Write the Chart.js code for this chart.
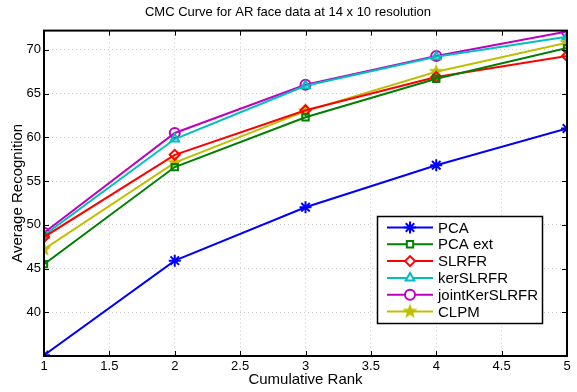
<!DOCTYPE html>
<html>
<head>
<meta charset="utf-8">
<script src="https://cdn.jsdelivr.net/npm/chart.js@4.4.0/dist/chart.umd.min.js"></script>
<style>
  html, body { margin: 0; padding: 0; background: #fff; }
  #wrap { width: 577px; height: 392px; position: relative; }
</style>
</head>
<body>
<div id="wrap"><canvas id="cmc"></canvas></div>
<script>
// data
var ranks = [1, 2, 3, 4, 5];
var pca = [35.1, 45.9, 52.0, 56.8, 61.0];
var pcaExt = [45.5, 56.6, 62.3, 66.7, 70.2];
var slrfr = [48.6, 58.0, 63.1, 66.9, 69.3];
var kerSlrfr = [48.8, 59.8, 65.9, 69.2, 71.5];
var jointKer = [49.1, 60.5, 66.0, 69.3, 72.1];
var clpm = [47.2, 57.1, 63.0, 67.5, 70.8];
var xTicks = [1, 1.5, 2, 2.5, 3, 3.5, 4, 4.5, 5];
var yTicks = [40, 45, 50, 55, 60, 65, 70];

var FONT = "'Liberation Sans', Arial, sans-serif";

// five pointed star marker for CLPM (not built into chart.js)
function starImage(color, r) {
    var c = document.createElement("canvas");
    var s = Math.ceil(r * 2 + 2);
    c.width = s; c.height = s;
    var g = c.getContext("2d");
    g.beginPath();
    for (var i = 0; i < 10; i++) {
        var rr = (i % 2 == 0) ? r : r * 0.42;
        var a = -Math.PI / 2 + i * Math.PI / 5;
        var px = s / 2 + rr * Math.cos(a), py = s / 2 + rr * Math.sin(a);
        if (i == 0) g.moveTo(px, py); else g.lineTo(px, py);
    }
    g.closePath();
    g.fillStyle = color;
    g.fill();
    return c;
}
var starMark = starImage("#bfbf00", 8);

function pts(arr) {
    return arr.map(function(v, i) { return {x: ranks[i], y: v}; });
}

function series(label, arr, color, style, radius) {
    return {
        label: label,
        data: pts(arr),
        borderColor: color,
        backgroundColor: "rgba(0,0,0,0)",
        borderWidth: 2,
        pointStyle: style,
        pointRadius: radius,
        pointBorderColor: color,
        pointBackgroundColor: "rgba(0,0,0,0)",
        pointBorderWidth: 2,
        tension: 0
    };
}

var datasets = [
    series("PCA", pca, "#0000ff", "star", 6),
    series("PCA ext", pcaExt, "#008000", "rect", 4.5),
    series("SLRFR", slrfr, "#ff0000", "rectRot", 5),
    series("kerSLRFR", kerSlrfr, "#00bfbf", "triangle", 5),
    series("jointKerSLRFR", jointKer, "#bf00bf", "circle", 5),
    series("CLPM", clpm, "#bfbf00", starMark, 8)
];

// frame, inward ticks and the boxed legend inside the plot
var matlabFrame = {
    id: "matlabFrame",
    afterDatasetsDraw: function(chart) {
        var ctx = chart.ctx, a = chart.chartArea;
        var xs = chart.scales.x, ys = chart.scales.y;
        ctx.save();
        ctx.strokeStyle = "#000";
        ctx.lineWidth = 1;
        xTicks.forEach(function(v) {
            var px = Math.round(xs.getPixelForValue(v)) + 0.5;
            ctx.beginPath();
            ctx.moveTo(px, a.bottom); ctx.lineTo(px, a.bottom - 5);
            ctx.moveTo(px, a.top); ctx.lineTo(px, a.top + 5);
            ctx.stroke();
        });
        yTicks.forEach(function(v) {
            var py = Math.round(ys.getPixelForValue(v)) + 0.5;
            ctx.beginPath();
            ctx.moveTo(a.left, py); ctx.lineTo(a.left + 5, py);
            ctx.moveTo(a.right, py); ctx.lineTo(a.right - 5, py);
            ctx.stroke();
        });
        ctx.lineWidth = 2;
        ctx.strokeRect(a.left, a.top, a.right - a.left, a.bottom - a.top);

        // legend
        var lx = 377, ly = 216, lw = 165, lh = 107;
        ctx.fillStyle = "#fff";
        ctx.fillRect(lx, ly, lw, lh);
        ctx.lineWidth = 1.5;
        ctx.strokeStyle = "#000";
        ctx.strokeRect(lx + 0.5, ly + 0.5, lw, lh);
        ctx.font = "15px " + FONT;
        ctx.textBaseline = "middle";
        chart.data.datasets.forEach(function(ds, i) {
            var y = ly + 11.5 + i * 16.8;
            ctx.strokeStyle = ds.borderColor;
            ctx.lineWidth = 2;
            ctx.beginPath();
            ctx.moveTo(387, y); ctx.lineTo(433, y);
            ctx.stroke();
            if (typeof ds.pointStyle == "string") {
                ctx.fillStyle = "#fff";
                Chart.helpers.drawPoint(ctx, {
                    pointStyle: ds.pointStyle,
                    radius: ds.pointRadius,
                    borderWidth: 2,
                    rotation: 0
                }, 410, y);
            } else {
                ctx.drawImage(ds.pointStyle, 410 - ds.pointStyle.width / 2, y - ds.pointStyle.height / 2);
            }
            ctx.fillStyle = "#000";
            ctx.fillText(ds.label, 438, y + 1);
        });
        ctx.restore();
    }
};

var chart = new Chart(document.getElementById("cmc"), {
    type: "line",
    data: { datasets: datasets },
    options: {
        responsive: true,
        maintainAspectRatio: false,
        animation: false,
        layout: { padding: { left: 0, right: 1, top: 0, bottom: 0 } },
        plugins: {
            legend: { display: false },
            tooltip: { enabled: false },
            title: {
                display: true,
                text: "CMC Curve for AR face data at 14 x 10 resolution",
                color: "#000",
                font: { family: FONT, size: 13, weight: "normal" },
                padding: { top: 5, bottom: 10 }
            }
        },
        scales: {
            x: {
                type: "linear",
                min: 1,
                max: 5,
                afterBuildTicks: function(s) { s.ticks = xTicks.map(function(v) { return {value: v}; }); },
                afterFit: function(s) { s.height = 36; s.paddingLeft = 0; s.paddingRight = 0; },
                ticks: {
                    color: "#000",
                    font: { family: FONT, size: 13 },
                    padding: 3,
                    maxRotation: 0,
                    autoSkip: false,
                    callback: function(v) { return String(v); }
                },
                grid: { color: "#c8c8c8", lineWidth: 1, drawTicks: false },
                border: { display: false, dash: [1, 3] },
                title: {
                    display: true,
                    text: "Cumulative Rank",
                    color: "#000",
                    font: { family: FONT, size: 15 },
                    padding: { top: 0, bottom: 3 }
                }
            },
            y: {
                type: "linear",
                min: 35,
                max: 72.2,
                afterBuildTicks: function(s) { s.ticks = yTicks.map(function(v) { return {value: v}; }); },
                afterFit: function(s) { s.width = 44; },
                ticks: {
                    color: "#000",
                    font: { family: FONT, size: 13 },
                    padding: 3
                },
                grid: { color: "#c8c8c8", lineWidth: 1, drawTicks: false },
                border: { display: false, dash: [1, 3] },
                title: {
                    display: true,
                    text: "Average Recognition",
                    color: "#000",
                    font: { family: FONT, size: 15 },
                    padding: { top: 9, bottom: 0 }
                }
            }
        }
    },
    plugins: [matlabFrame]
});
</script>
</body>
</html>
